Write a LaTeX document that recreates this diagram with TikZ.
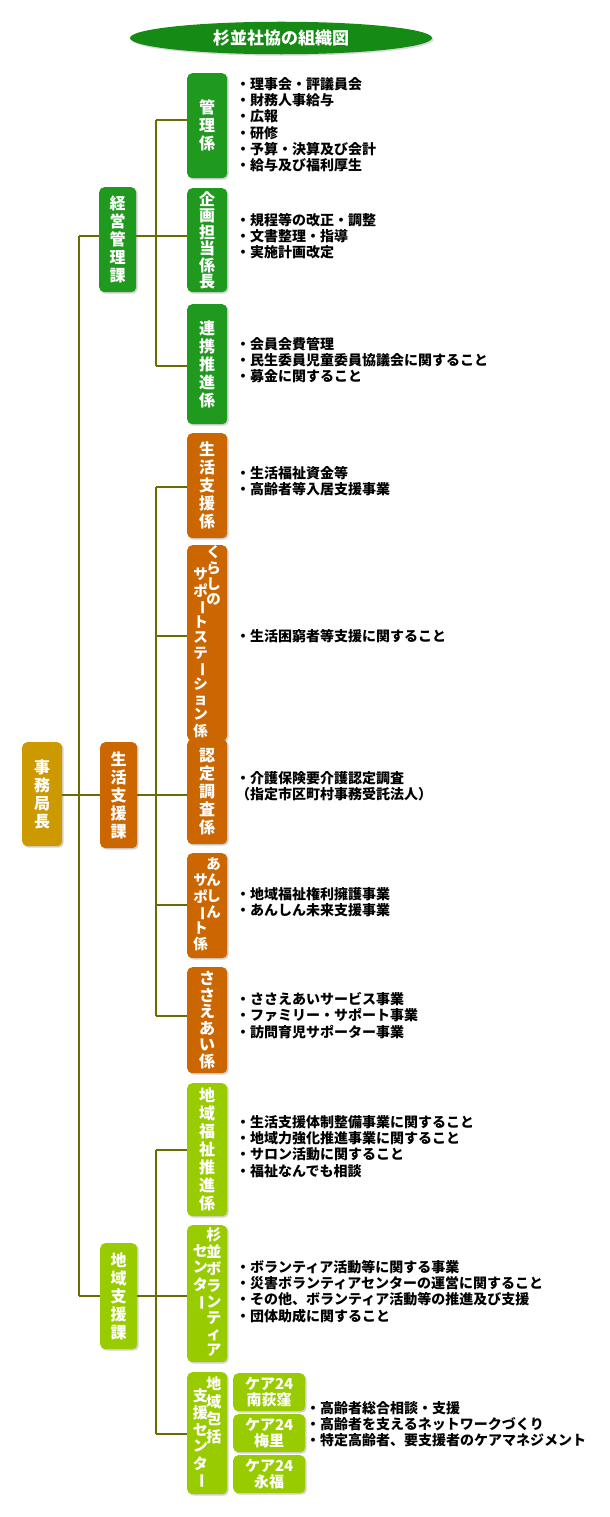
\documentclass[tikz,border=0pt]{standalone}
\usepackage{fontspec}
\newfontfamily\jp{Noto Sans CJK JP}
\usetikzlibrary{shadows,shapes.geometric}
\definecolor{cgreen}{HTML}{1F9A1F}
\definecolor{corange}{HTML}{CC6600}
\definecolor{clime}{HTML}{99CC00}
\definecolor{cgold}{HTML}{CC9900}
\definecolor{cline}{HTML}{6B6B00}
\definecolor{ctitle}{HTML}{158A15}
\newcommand{\vbar}{\rotatebox[origin=c]{-90}{ー}}
\newcommand{\col}[1]{\begin{tabular}[t]{@{}c@{}}#1\end{tabular}}
\begin{document}
\begin{tikzpicture}[x=1pt,y=-1pt,
  box/.style={rounded corners=5pt, text=white, font=\jp\bfseries\fontsize{16}{18}\selectfont,
    inner sep=0pt, minimum width=40pt, anchor=north west, align=center,
    drop shadow={opacity=0.35, shadow xshift=1.5pt, shadow yshift=-1.5pt}},
  small/.style={font=\jp\bfseries\fontsize{14.5}{14.5}\selectfont},
  conn/.style={draw=cline, line width=2.6pt},
  items/.style={anchor=north west, align=left, inner sep=0pt, font=\jp\bfseries\fontsize{14}{16.3}\selectfont},
  care/.style={box, minimum width=72pt, minimum height=38pt, fill=clime, font=\jp\bfseries\fontsize{15}{16}\selectfont}]
\useasboundingbox (0,0) rectangle (610,1517);
% title
\node[ellipse, fill=ctitle, minimum width=302pt, minimum height=30pt, text=white,
  font=\jp\bfseries\fontsize{17}{18}\selectfont, drop shadow={opacity=0.3, shadow xshift=1.5pt, shadow yshift=-1.5pt}] (title) at (281,38) {杉並社協の組織図};
% director
\node[box, fill=cgold, minimum height=104pt] (jimu) at (22,742) {事\\務\\局\\長};
% sections
\node[box, fill=cgreen, minimum width=37pt, minimum height=105pt] (keiei) at (99,187) {経\\営\\管\\理\\課};
\node[box, fill=corange, minimum width=37pt, minimum height=106pt] (seikatsu) at (100,742) {生\\活\\支\\援\\課};
\node[box, fill=clime, minimum width=37pt, minimum height=106pt] (chiiki) at (100,1243) {地\\域\\支\\援\\課};
% group 1
\node[box, fill=cgreen, minimum height=105pt] (kanri) at (187,73) {管\\理\\係};
\node[box, fill=cgreen, minimum height=104pt, font=\jp\bfseries\fontsize{16}{16.5}\selectfont] (kikaku) at (187,188) {企\\画\\担\\当\\係\\長};
\node[box, fill=cgreen, minimum height=120pt] (renkei) at (187,304) {連\\携\\推\\進\\係};
% group 2
\node[box, fill=corange, minimum height=105pt] (sk) at (187,433) {生\\活\\支\\援\\係};
\node[box, small, fill=corange, minimum height=185pt] (kurashi) at (187,545)
  {\col{\\[6pt]サ\\ポ\\\vbar\\ト\\ス\\テ\\\vbar\\シ\\ョ\\ン\\係}\hspace{-1.5pt}\col{く\\ら\\し\\の}};
\node[box, fill=corange, minimum height=105pt] (nintei) at (187,739) {認\\定\\調\\査\\係};
\node[box, small, fill=corange, minimum height=105pt] (anshin) at (187,853)
  {\col{\\サ\\ポ\\\vbar\\ト\\係}\hspace{-1.5pt}\col{あ\\ん\\し\\ん}};
\node[box, fill=corange, minimum height=106pt, font=\jp\bfseries\fontsize{16}{16.5}\selectfont] (sasae) at (187,967) {さ\\さ\\え\\あ\\い\\係};
% group 3
\node[box, fill=clime, minimum height=133pt] (fukushi) at (187,1083) {地\\域\\福\\祉\\推\\進\\係};
\node[box, small, fill=clime, minimum height=137pt, font=\jp\bfseries\fontsize{15}{15.5}\selectfont] (vol) at (187,1225)
  {\col{\\セ\\ン\\タ\\\vbar}\hspace{-1.5pt}\col{杉\\並\\ボ\\ラ\\ン\\テ\\ィ\\ア}};
\node[box, small, fill=clime, minimum height=122pt, font=\jp\bfseries\fontsize{15}{15.5}\selectfont] (houkatsu) at (187,1372)
  {\col{\\[-6pt]支\\援\\セ\\ン\\タ\\\vbar}\hspace{-1.5pt}\col{地\\域\\包\\括}};
\node[care] (c1) at (233,1373) {ケア24\\南荻窪};
\node[care] (c2) at (233,1414) {ケア24\\梅里};
\node[care] (c3) at (233,1455) {ケア24\\永福};
% connectors
\coordinate (tr) at (79,236);
\coordinate (g1) at (156,120);
\coordinate (g2) at (156,487);
\coordinate (g3) at (156,1150);
\draw[conn] (tr) -- (79,1296);
\draw[conn] (jimu.east |- 0,795) -- (79,795);
\draw[conn] (tr) -- (keiei.west |- tr);
\draw[conn] (79,795) -- (seikatsu.west |- 0,795);
\draw[conn] (79,1296) -- (chiiki.west |- 0,1296);
\draw[conn] (keiei.east |- tr) -- (kikaku.west |- tr);
\draw[conn] (g1) -- (156,366);
\draw[conn] (g1) -- (kanri.west |- g1);
\draw[conn] (156,366) -- (renkei.west |- 0,366);
\draw[conn] (seikatsu.east |- 0,795) -- (nintei.west |- 0,795);
\draw[conn] (g2) -- (156,1016);
\draw[conn] (g2) -- (sk.west |- g2);
\draw[conn] (156,636) -- (kurashi.west |- 0,636);
\draw[conn] (156,905) -- (anshin.west |- 0,905);
\draw[conn] (156,1016) -- (sasae.west |- 0,1016);
\draw[conn] (chiiki.east |- 0,1296) -- (vol.west |- 0,1296);
\draw[conn] (g3) -- (156,1434);
\draw[conn] (g3) -- (fukushi.west |- g3);
\draw[conn] (156,1434) -- (houkatsu.west |- 0,1434);
% items
\node[items] (t1) at (236,77) {・理事会・評議員会\\・財務人事給与\\・広報\\・研修\\・予算・決算及び会計\\・給与及び福利厚生};
\node[items] (t2) at (236,213) {・規程等の改正・調整\\・文書整理・指導\\・実施計画改定};
\node[items] (t3) at (236,337) {・会員会費管理\\・民生委員児童委員協議会に関すること\\・募金に関すること};
\node[items] (t4) at (236,466) {・生活福祉資金等\\・高齢者等入居支援事業};
\node[items] (t5) at (236,629) {・生活困窮者等支援に関すること};
\node[items] (t6) at (236,771) {・介護保険要介護認定調査\\（指定市区町村事務受託法人）};
\node[items] (t7) at (236,887) {・地域福祉権利擁護事業\\・あんしん未来支援事業};
\node[items] (t8) at (236,992) {・ささえあいサービス事業\\・ファミリー・サポート事業\\・訪問育児サポーター事業};
\node[items] (t9) at (236,1115) {・生活支援体制整備事業に関すること\\・地域力強化推進事業に関すること\\・サロン活動に関すること\\・福祉なんでも相談};
\node[items] (t10) at (236,1260) {・ボランティア活動等に関する事業\\・災害ボランティアセンターの運営に関すること\\・その他、ボランティア活動等の推進及び支援\\・団体助成に関すること};
\node[items] (t11) at (306,1401) {・高齢者総合相談・支援\\・高齢者を支えるネットワークづくり\\・特定高齢者、要支援者のケアマネジメント};
\end{tikzpicture}
\end{document}
